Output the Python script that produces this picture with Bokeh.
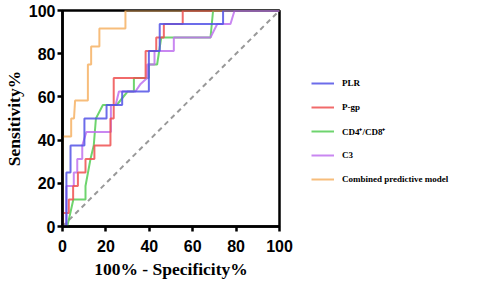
from bokeh.plotting import figure
from bokeh.models import Range1d, FixedTicker, Legend, LegendItem
from bokeh.embed import file_html
from bokeh.resources import INLINE

# ---- data ----
series_names = ["PLR", "P-gp", "CD4\u207a/CD8\u207a", "C3", "Combined predictive model"]
series_colors = ["#5252e6", "#ee5050", "#55cc55", "#c072ee", "#f6b164"]

plr_x = [0, 1.8, 1.8, 3.7, 3.7, 10.1, 10.1, 20.3, 20.3, 27.5, 27.5, 39.8, 39.8, 44.8, 44.8, 74, 74, 100]
plr_y = [0, 0, 25, 25, 37.5, 37.5, 50, 50, 56.25, 56.25, 62.5, 62.5, 81.25, 81.25, 93.75, 93.75, 100, 100]

pgp_x = [0, 0, 2.9, 2.9, 4.9, 4.9, 7.1, 7.1, 10.6, 10.6, 14.7, 14.7, 22.1, 22.1, 23.6, 23.6, 38.3, 38.3, 43.2, 43.2, 46.7, 46.7, 55.4, 55.4, 100]
pgp_y = [0, 6.25, 6.25, 12.5, 12.5, 18.75, 18.75, 25, 25, 31.25, 31.25, 37.5, 37.5, 50, 50, 68.75, 68.75, 81.25, 81.25, 87.5, 87.5, 93.75, 93.75, 100, 100]

cd_x = [0, 2.2, 5.0, 10.6, 10.6, 12.9, 14.4, 15.4, 18.6, 25.0, 30.0, 32.9, 32.9, 39.8, 39.8, 43.6, 45.5, 68.2, 69.4, 100]
cd_y = [0, 0, 12.5, 12.5, 18.75, 31.25, 37.5, 50, 56.25, 56.25, 62.5, 62.5, 68.75, 68.75, 75, 75, 87.5, 87.5, 100, 100]

c3_x = [0, 1.8, 1.8, 5.2, 5.2, 6.8, 6.8, 9.1, 9.1, 11.0, 22.3, 22.3, 24.5, 26.0, 33.6, 36.0, 39.0, 39.0, 42.4, 42.4, 51.3, 51.3, 68.2, 71.3, 77.4, 79.3, 100]
c3_y = [0, 0, 18.75, 18.75, 25, 25, 31.25, 31.25, 37.5, 43.75, 43.75, 56.25, 56.25, 62.5, 62.5, 66.0, 68.75, 75, 75, 81.25, 81.25, 87.5, 87.5, 93.75, 93.75, 100, 100]

comb_x = [0, 0, 4.0, 4.0, 5.3, 5.8, 11.7, 11.7, 13.2, 13.2, 17.0, 17.0, 29.0, 29.0, 100]
comb_y = [0, 41.67, 41.67, 50, 50, 58.33, 58.33, 75, 75, 83.33, 83.33, 91.67, 91.67, 100, 100]

ref_x = [0, 100]
ref_y = [0, 100]

ticks = [0, 20, 40, 60, 80, 100]

# ---- figure ----
p = figure(frame_width=217, frame_height=216, output_backend="svg", toolbar_location=None,
           x_range=Range1d(0, 100), y_range=Range1d(0, 100),
           min_border_left=62, min_border_right=205, min_border_top=10, min_border_bottom=56)
p.background_fill_color = "white"
p.border_fill_color = "white"
p.grid.visible = False
p.outline_line_color = "black"
p.outline_line_width = 2.5

for ax in (p.xaxis[0], p.yaxis[0]):
    ax.ticker = FixedTicker(ticks=ticks)
    ax.axis_line_width = 2.5
    ax.axis_line_color = "black"
    ax.major_tick_line_width = 2.5
    ax.major_tick_line_color = "black"
    ax.major_tick_out = 5
    ax.major_tick_in = 0
    ax.minor_tick_line_color = None
    ax.major_label_text_font = "Liberation Sans"
    ax.major_label_text_font_style = "bold"
    ax.major_label_text_font_size = "16px"
    ax.major_label_text_color = "black"
    ax.axis_label_text_font = "Liberation Serif"
    ax.axis_label_text_font_style = "bold"
    ax.axis_label_text_font_size = "17.5px"
    ax.axis_label_text_color = "black"

p.xaxis.axis_label = "100% - Specificity%"
p.yaxis.axis_label = "Sensitivity%"
p.xaxis.major_label_standoff = 8
p.xaxis.axis_label_standoff = 4
p.yaxis.major_label_standoff = 2
p.yaxis.axis_label_standoff = 2

p.line(ref_x, ref_y, line_color="#999999", line_width=2, line_dash="5 4")

xs = [plr_x, pgp_x, cd_x, c3_x, comb_x]
ys = [plr_y, pgp_y, cd_y, c3_y, comb_y]
renderers = [None] * 5
for i in [4, 2, 3, 1, 0]:
    renderers[i] = p.line(xs[i], ys[i], line_color=series_colors[i], line_width=2, line_alpha=0.85)

legend = Legend(items=[LegendItem(label=series_names[i], renderers=[renderers[i]]) for i in range(5)],
                location=(32, 35))
legend.label_text_font = "Liberation Serif"
legend.label_text_font_style = "bold"
legend.label_text_font_size = "9px"
legend.label_text_color = "black"
legend.glyph_width = 23
legend.glyph_height = 24
legend.label_height = 24
legend.label_standoff = 8
legend.spacing = 0
legend.padding = 0
legend.margin = 0
legend.border_line_alpha = 0
legend.background_fill_alpha = 0
p.add_layout(legend, "right")

open("out.html", "w").write(file_html(p, INLINE))
